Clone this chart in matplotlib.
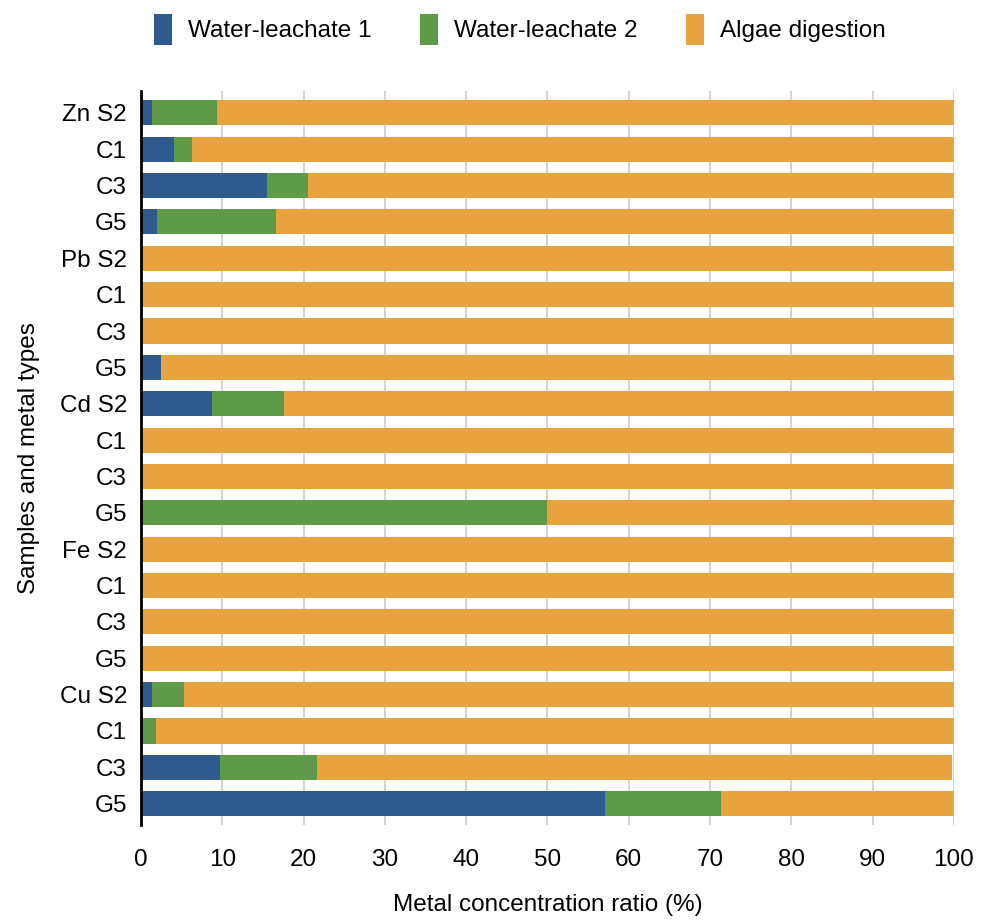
import numpy as np
import matplotlib
matplotlib.use("Agg")
import matplotlib.pyplot as plt

plt.rcParams['font.family'] = ['Liberation Sans', 'DejaVu Sans']

labels = ["Zn S2", "C1", "C3", "G5",
          "Pb S2", "C1", "C3", "G5",
          "Cd S2", "C1", "C3", "G5",
          "Fe S2", "C1", "C3", "G5",
          "Cu S2", "C1", "C3", "G5"]

leach1 = [1.4, 4.1, 15.5, 2.0,
          0.0, 0.0, 0.0, 2.5,
          8.7, 0.0, 0.0, 0.0,
          0.0, 0.0, 0.0, 0.0,
          1.4, 0.2, 9.7, 57.1]
leach2 = [8.0, 2.2, 5.1, 14.6,
          0.0, 0.0, 0.0, 0.0,
          8.9, 0.0, 0.0, 49.9,
          0.0, 0.0, 0.0, 0.0,
          3.9, 1.6, 12.0, 14.2]
algae = [90.6, 93.7, 79.4, 83.4,
         100.0, 100.0, 100.0, 97.5,
         82.4, 100.0, 100.0, 50.1,
         100.0, 100.0, 100.0, 100.0,
         94.7, 98.2, 78.1, 28.7]

blue = "#2E5A8E"
green = "#5E9A47"
orange = "#E9A33E"

fig = plt.figure(figsize=(9.86, 9.23), dpi=100)
ax = fig.add_axes([0.143, 0.106, 0.8245, 0.795])

y = np.arange(len(labels))
l1 = np.array(leach1)
l2 = np.array(leach2)
h = 0.69
ax.barh(y, l1, height=h, color=blue, label="Water-leachate 1", zorder=3)
ax.barh(y, l2, left=l1, height=h, color=green, label="Water-leachate 2", zorder=3)
ax.barh(y, algae, left=l1 + l2, height=h, color=orange, label="Algae digestion", zorder=3)

ax.set_xlim(0, 100)
ax.set_ylim(len(labels) - 0.41, -0.59)
ax.set_yticks(y)
ax.set_yticklabels(labels)
ax.set_xticks(np.arange(0, 101, 10))
ax.tick_params(axis="both", length=0, labelsize=17.5)
ax.tick_params(axis="y", pad=10)
ax.tick_params(axis="x", pad=17)
ax.grid(axis="x", color="#CCCCCC", linewidth=1.2, zorder=0)
for s in ["top", "right", "bottom"]:
    ax.spines[s].set_visible(False)
ax.spines["left"].set_linewidth(2)
ax.spines["left"].set_zorder(4)

ax.set_xlabel("Metal concentration ratio (%)", fontsize=17.5, labelpad=17)
ax.set_ylabel("Samples and metal types", fontsize=17.5, labelpad=14)

fig.legend(loc="center", bbox_to_anchor=(0.527, 0.968), ncol=3, frameon=False,
           fontsize=17.5, handlelength=0.75, handleheight=1.6, handletextpad=0.65,
           columnspacing=2.0)

fig.savefig("out.png", dpi=100)
